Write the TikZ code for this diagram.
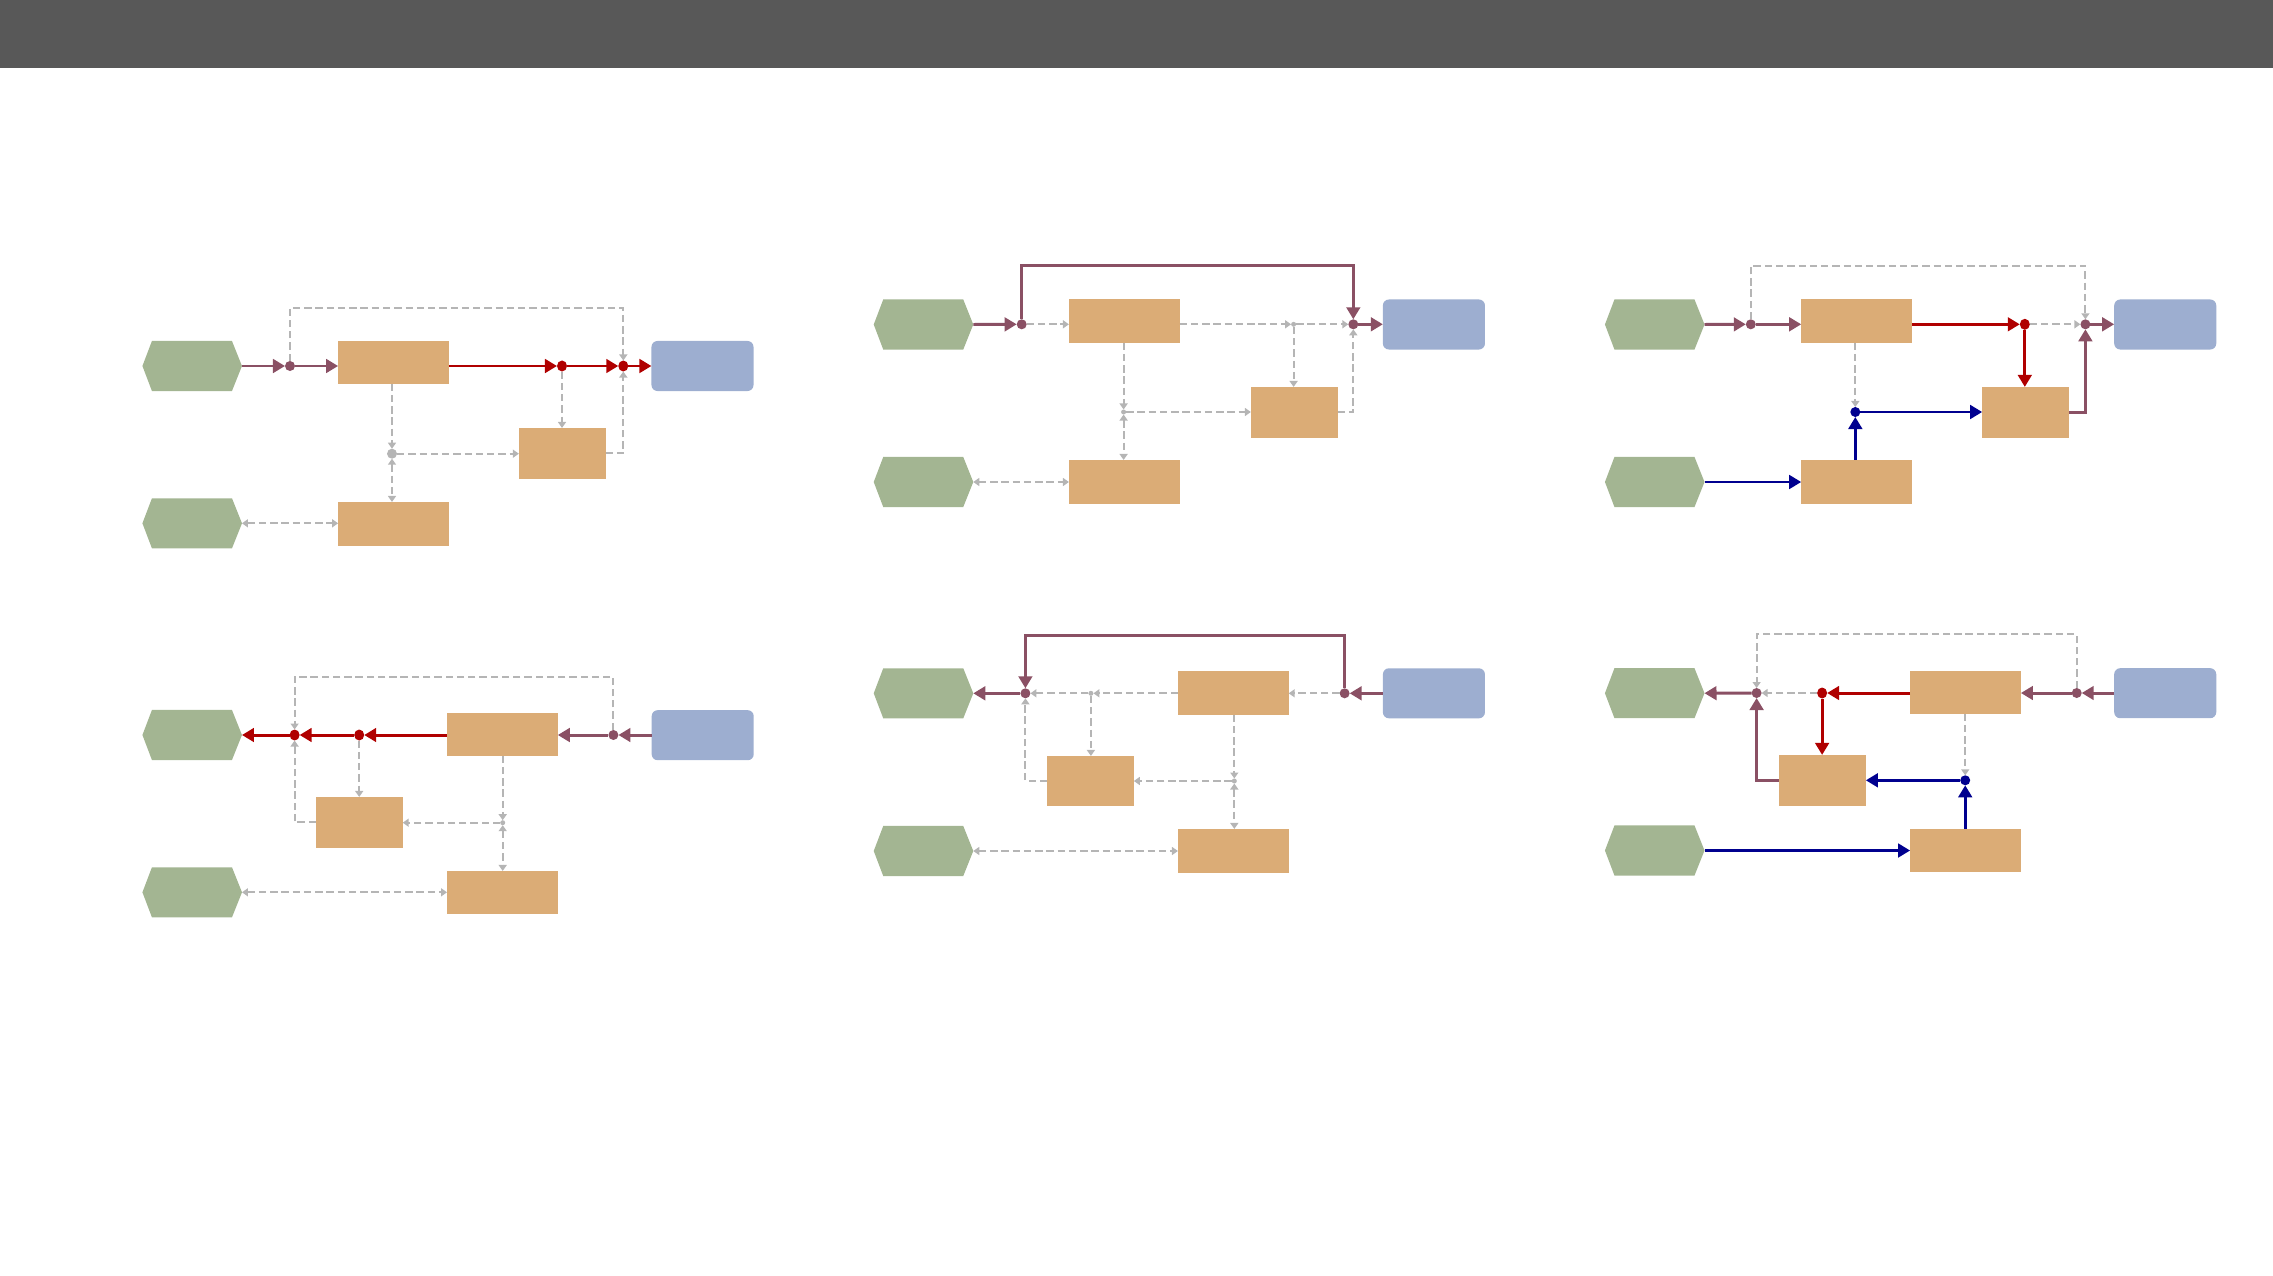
\documentclass[tikz,border=0pt]{standalone}
\usetikzlibrary{arrows.meta,shapes.geometric,calc}
\definecolor{hdr}{HTML}{585858}
\definecolor{hexg}{HTML}{A3B592}
\definecolor{orng}{HTML}{DBAC76}
\definecolor{blu}{HTML}{9DAED0}
\definecolor{pinkc}{HTML}{8A5064}
\definecolor{redc}{HTML}{B00000}
\definecolor{navyc}{HTML}{00008F}
\definecolor{grayd}{HTML}{B5B5B5}
\tikzset{
 hexbox/.style={minimum width=0.995cm, minimum height=0.5cm, inner sep=0pt, outer sep=0pt},
 obox/.style={fill=orng, inner sep=0pt, outer sep=0pt},
 bigbox/.style={obox, minimum width=1.107cm},
 smallbox/.style={obox, minimum width=0.866cm, minimum height=0.507cm},
 bbox/.style={fill=blu, rounded corners=0.06cm, minimum width=1.02cm, minimum height=0.5cm, inner sep=0pt, outer sep=0pt},
 pdot/.style={circle, fill=pinkc, minimum size=0.1cm, inner sep=0pt, outer sep=0pt},
 rdot/.style={ellipse, fill=redc, minimum width=0.1cm, minimum height=0.11cm, inner sep=0pt, outer sep=0pt},
 ndot/.style={circle, fill=navyc, minimum size=0.1cm, inner sep=0pt, outer sep=0pt},
 gdot/.style={circle, fill=grayd, minimum size=0.1cm, inner sep=0pt, outer sep=0pt},
 sdot/.style={circle, fill=grayd, minimum size=0.05cm, inner sep=0pt, outer sep=0pt},
 pl/.style={draw=pinkc, line width=0.85pt},
 rl/.style={draw=redc, line width=0.85pt},
 nl/.style={draw=navyc, line width=0.85pt},
 gl/.style={draw=grayd, line width=0.55pt, dash pattern=on 2.1pt off 1.1pt},
 sa/.style={-{Triangle[length=0.12cm,width=0.135cm]}},
 ga/.style={-{Triangle[length=0.06cm,width=0.08cm]}},
 gaa/.style={{Triangle[length=0.06cm,width=0.08cm]}-{Triangle[length=0.06cm,width=0.08cm]}},
}
\newcommand{\hexat}[3]{\node[hexbox] (#1) at (#2,#3) {};
 \fill[hexg] (#1.west) -- ([xshift=0.095cm]#1.north west) -- ([xshift=-0.1cm]#1.north east) -- (#1.east) -- ([xshift=-0.1cm]#1.south east) -- ([xshift=0.095cm]#1.south west) -- cycle;}
\begin{document}
\begin{tikzpicture}[x=0.01cm,y=-0.01cm]
\useasboundingbox (0,0) rectangle (2273,1276);
\fill[hdr] (0,0) rectangle (2273,68);

% ---------- Diagram 1 ----------
\hexat{h1a}{192.2}{366}
\hexat{h1b}{192.2}{523.3}
\node[bigbox, minimum height=0.427cm] (A1) at (393.5,362.3) {};
\node[smallbox] (C1) at (562.2,453.3) {};
\node[bigbox, minimum height=0.437cm] (D1) at (393.5,523.8) {};
\node[bbox] (B1) at (702.5,366) {};
\node[pdot] (p1a) at (290,366) {};
\node[rdot] (r1a) at (562,366) {};
\node[rdot] (r1b) at (623.3,366) {};
\node[gdot] (g1a) at (392,453.7) {};
\draw[pl,sa] (h1a.east) -- (p1a);
\draw[pl,sa] (p1a) -- (p1a -| A1.west);
\draw[gl,ga] (p1a) -- ++(0,-58.3) -| (r1b);
\draw[rl,sa] (A1.east |- r1a) -- (r1a);
\draw[rl,sa] (r1a) -- (r1b);
\draw[rl,sa] (r1b) -- (r1b -| B1.west);
\draw[gl,ga] (r1a) -- (r1a |- C1.north);
\draw[gl,ga] (C1.east) -| (r1b);
\draw[gl,ga] (A1.south -| g1a) -- (g1a);
\draw[gl,ga] (g1a) -- (g1a -| C1.west);
\draw[gl,gaa] (g1a) -- (g1a |- D1.north);
\draw[gl,gaa] (h1b.east) -- (h1b.east -| D1.west);

% ---------- Diagram 2 ----------
\hexat{h2a}{923.5}{324.5}
\hexat{h2b}{923.5}{482}
\node[bigbox, minimum height=0.434cm] (A2) at (1124.3,321) {};
\node[smallbox] (C2) at (1294.2,412.3) {};
\node[bigbox, minimum height=0.437cm] (D2) at (1124.3,481.8) {};
\node[bbox] (B2) at (1433.9,324.5) {};
\node[pdot] (p2a) at (1021.7,324.3) {};
\node[sdot] (s2a) at (1293.6,324.3) {};
\node[pdot] (p2b) at (1353.3,324.3) {};
\node[sdot] (s2b) at (1123.6,412) {};
\draw[pl,sa] (h2a.east) -- (p2a);
\draw[gl,ga] (p2a) -- (p2a -| A2.west);
\draw[pl,sa] (p2a) -- ++(0,-58.6) -| (p2b);
\draw[gl,ga] (A2.east |- s2a) -- (s2a);
\draw[gl,ga] (s2a) -- (p2b);
\draw[pl,sa] (p2b) -- (p2b -| B2.west);
\draw[gl,ga] (s2a) -- (s2a |- C2.north);
\draw[gl,ga] (C2.east) -| (p2b);
\draw[gl,ga] (A2.south -| s2b) -- (s2b);
\draw[gl,ga] (s2b) -- (s2b -| C2.west);
\draw[gl,gaa] (s2b) -- (s2b |- D2.north);
\draw[gl,gaa] (h2b.east) -- (h2b.east -| D2.west);

% ---------- Diagram 3 ----------
\hexat{h3a}{1654.7}{324.5}
\hexat{h3b}{1654.7}{482}
\node[bigbox, minimum height=0.434cm] (A3) at (1856.6,321) {};
\node[smallbox] (C3) at (2025.5,412.3) {};
\node[bigbox, minimum height=0.437cm] (D3) at (1856.6,481.8) {};
\node[bbox] (B3) at (2165.2,324.5) {};
\node[pdot] (p3a) at (1750.8,324.3) {};
\node[rdot] (r3a) at (2024.8,324.3) {};
\node[pdot] (p3b) at (2085.4,324.3) {};
\node[ndot] (n3a) at (1855.3,412) {};
\draw[pl,sa] (h3a.east) -- (p3a);
\draw[pl,sa] (p3a) -- (p3a -| A3.west);
\draw[gl,ga] (p3a) -- ++(0,-58.6) -| (p3b);
\draw[rl,sa] (A3.east |- r3a) -- (r3a);
\draw[gl,ga] (r3a) -- (p3b);
\draw[rl,sa] (r3a) -- (r3a |- C3.north);
\draw[pl,sa] (p3b) -- (p3b -| B3.west);
\draw[pl,sa] (C3.east) -| (p3b);
\draw[gl,ga] (A3.south -| n3a) -- (n3a);
\draw[nl,sa] (n3a) -- (n3a -| C3.west);
\draw[nl,sa] (D3.north -| n3a) -- (n3a);
\draw[nl,sa] (h3b.east) -- (h3b.east -| D3.west);

% ---------- Diagram 4 ----------
\hexat{h4a}{192.2}{735}
\hexat{h4b}{192.2}{892.3}
\node[bigbox, minimum height=0.427cm] (A4) at (502.4,734.3) {};
\node[smallbox] (C4) at (359.4,822.3) {};
\node[bigbox, minimum height=0.427cm] (D4) at (502.4,892.3) {};
\node[bbox] (B4) at (702.7,735.2) {};
\node[pdot] (p4a) at (613.4,735) {};
\node[rdot] (r4a) at (359.2,735) {};
\node[rdot] (r4b) at (294.6,735) {};
\node[sdot] (s4a) at (502.7,822.7) {};
\draw[pl,sa] (B4.west |- p4a) -- (p4a);
\draw[pl,sa] (p4a) -- (p4a -| A4.east);
\draw[gl,ga] (p4a) -- ++(0,-58.3) -| (r4b);
\draw[rl,sa] (A4.west |- r4a) -- (r4a);
\draw[rl,sa] (r4a) -- (r4b);
\draw[rl,sa] (r4b) -- (h4a.east);
\draw[gl,ga] (r4a) -- (r4a |- C4.north);
\draw[gl,ga] (C4.west) -| (r4b);
\draw[gl,ga] (A4.south -| s4a) -- (s4a);
\draw[gl,ga] (s4a) -- (s4a -| C4.east);
\draw[gl,gaa] (s4a) -- (s4a |- D4.north);
\draw[gl,gaa] (h4b.east) -- (h4b.east -| D4.west);

% ---------- Diagram 5 ----------
\hexat{h5a}{923.5}{693.3}
\hexat{h5b}{923.5}{851}
\node[bigbox, minimum height=0.437cm] (A5) at (1233.3,692.8) {};
\node[smallbox, minimum height=0.497cm] (C5) at (1090.5,780.8) {};
\node[bigbox, minimum height=0.437cm] (D5) at (1233.3,850.8) {};
\node[bbox] (B5) at (1433.9,693.3) {};
\node[pdot] (p5a) at (1344.6,693.3) {};
\node[sdot] (s5a) at (1090.9,693.3) {};
\node[pdot] (p5b) at (1025.4,693.3) {};
\node[sdot] (s5b) at (1234.3,781) {};
\draw[pl,sa] (B5.west |- p5a) -- (p5a);
\draw[gl,ga] (p5a) -- (p5a -| A5.east);
\draw[pl,sa] (p5a) -- ++(0,-58.3) -| (p5b);
\draw[gl,ga] (A5.west |- s5a) -- (s5a);
\draw[gl,ga] (s5a) -- (p5b);
\draw[pl,sa] (p5b) -- (h5a.east);
\draw[gl,ga] (s5a) -- (s5a |- C5.north);
\draw[gl,ga] (C5.west) -| (p5b);
\draw[gl,ga] (A5.south -| s5b) -- (s5b);
\draw[gl,ga] (s5b) -- (s5b -| C5.east);
\draw[gl,gaa] (s5b) -- (s5b |- D5.north);
\draw[gl,gaa] (h5b.east) -- (h5b.east -| D5.west);

% ---------- Diagram 6 ----------
\hexat{h6a}{1654.7}{693.2}
\hexat{h6b}{1654.7}{850.5}
\node[bigbox, minimum height=0.427cm] (A6) at (1965.5,692.3) {};
\node[smallbox] (C6) at (1822.5,780.3) {};
\node[bigbox, minimum height=0.427cm] (D6) at (1965.5,850.3) {};
\node[bbox] (B6) at (2165.2,693.2) {};
\node[pdot] (p6a) at (2076.7,693) {};
\node[rdot] (r6a) at (1822.1,693) {};
\node[pdot] (p6b) at (1756.6,693) {};
\node[ndot] (n6a) at (1965.2,780.3) {};
\draw[pl,sa] (B6.west |- p6a) -- (p6a);
\draw[pl,sa] (p6a) -- (p6a -| A6.east);
\draw[gl,ga] (p6a) -- ++(0,-58.7) -| (p6b);
\draw[rl,sa] (A6.west |- r6a) -- (r6a);
\draw[gl,ga] (r6a) -- (p6b);
\draw[pl,sa] (p6b) -- (h6a.east);
\draw[rl,sa] (r6a) -- (r6a |- C6.north);
\draw[pl,sa] (C6.west) -| (p6b);
\draw[gl,ga] (A6.south -| n6a) -- (n6a);
\draw[nl,sa] (n6a) -- (n6a -| C6.east);
\draw[nl,sa] (D6.north -| n6a) -- (n6a);
\draw[nl,sa] (h6b.east) -- (h6b.east -| D6.west);
\end{tikzpicture}
\end{document}
